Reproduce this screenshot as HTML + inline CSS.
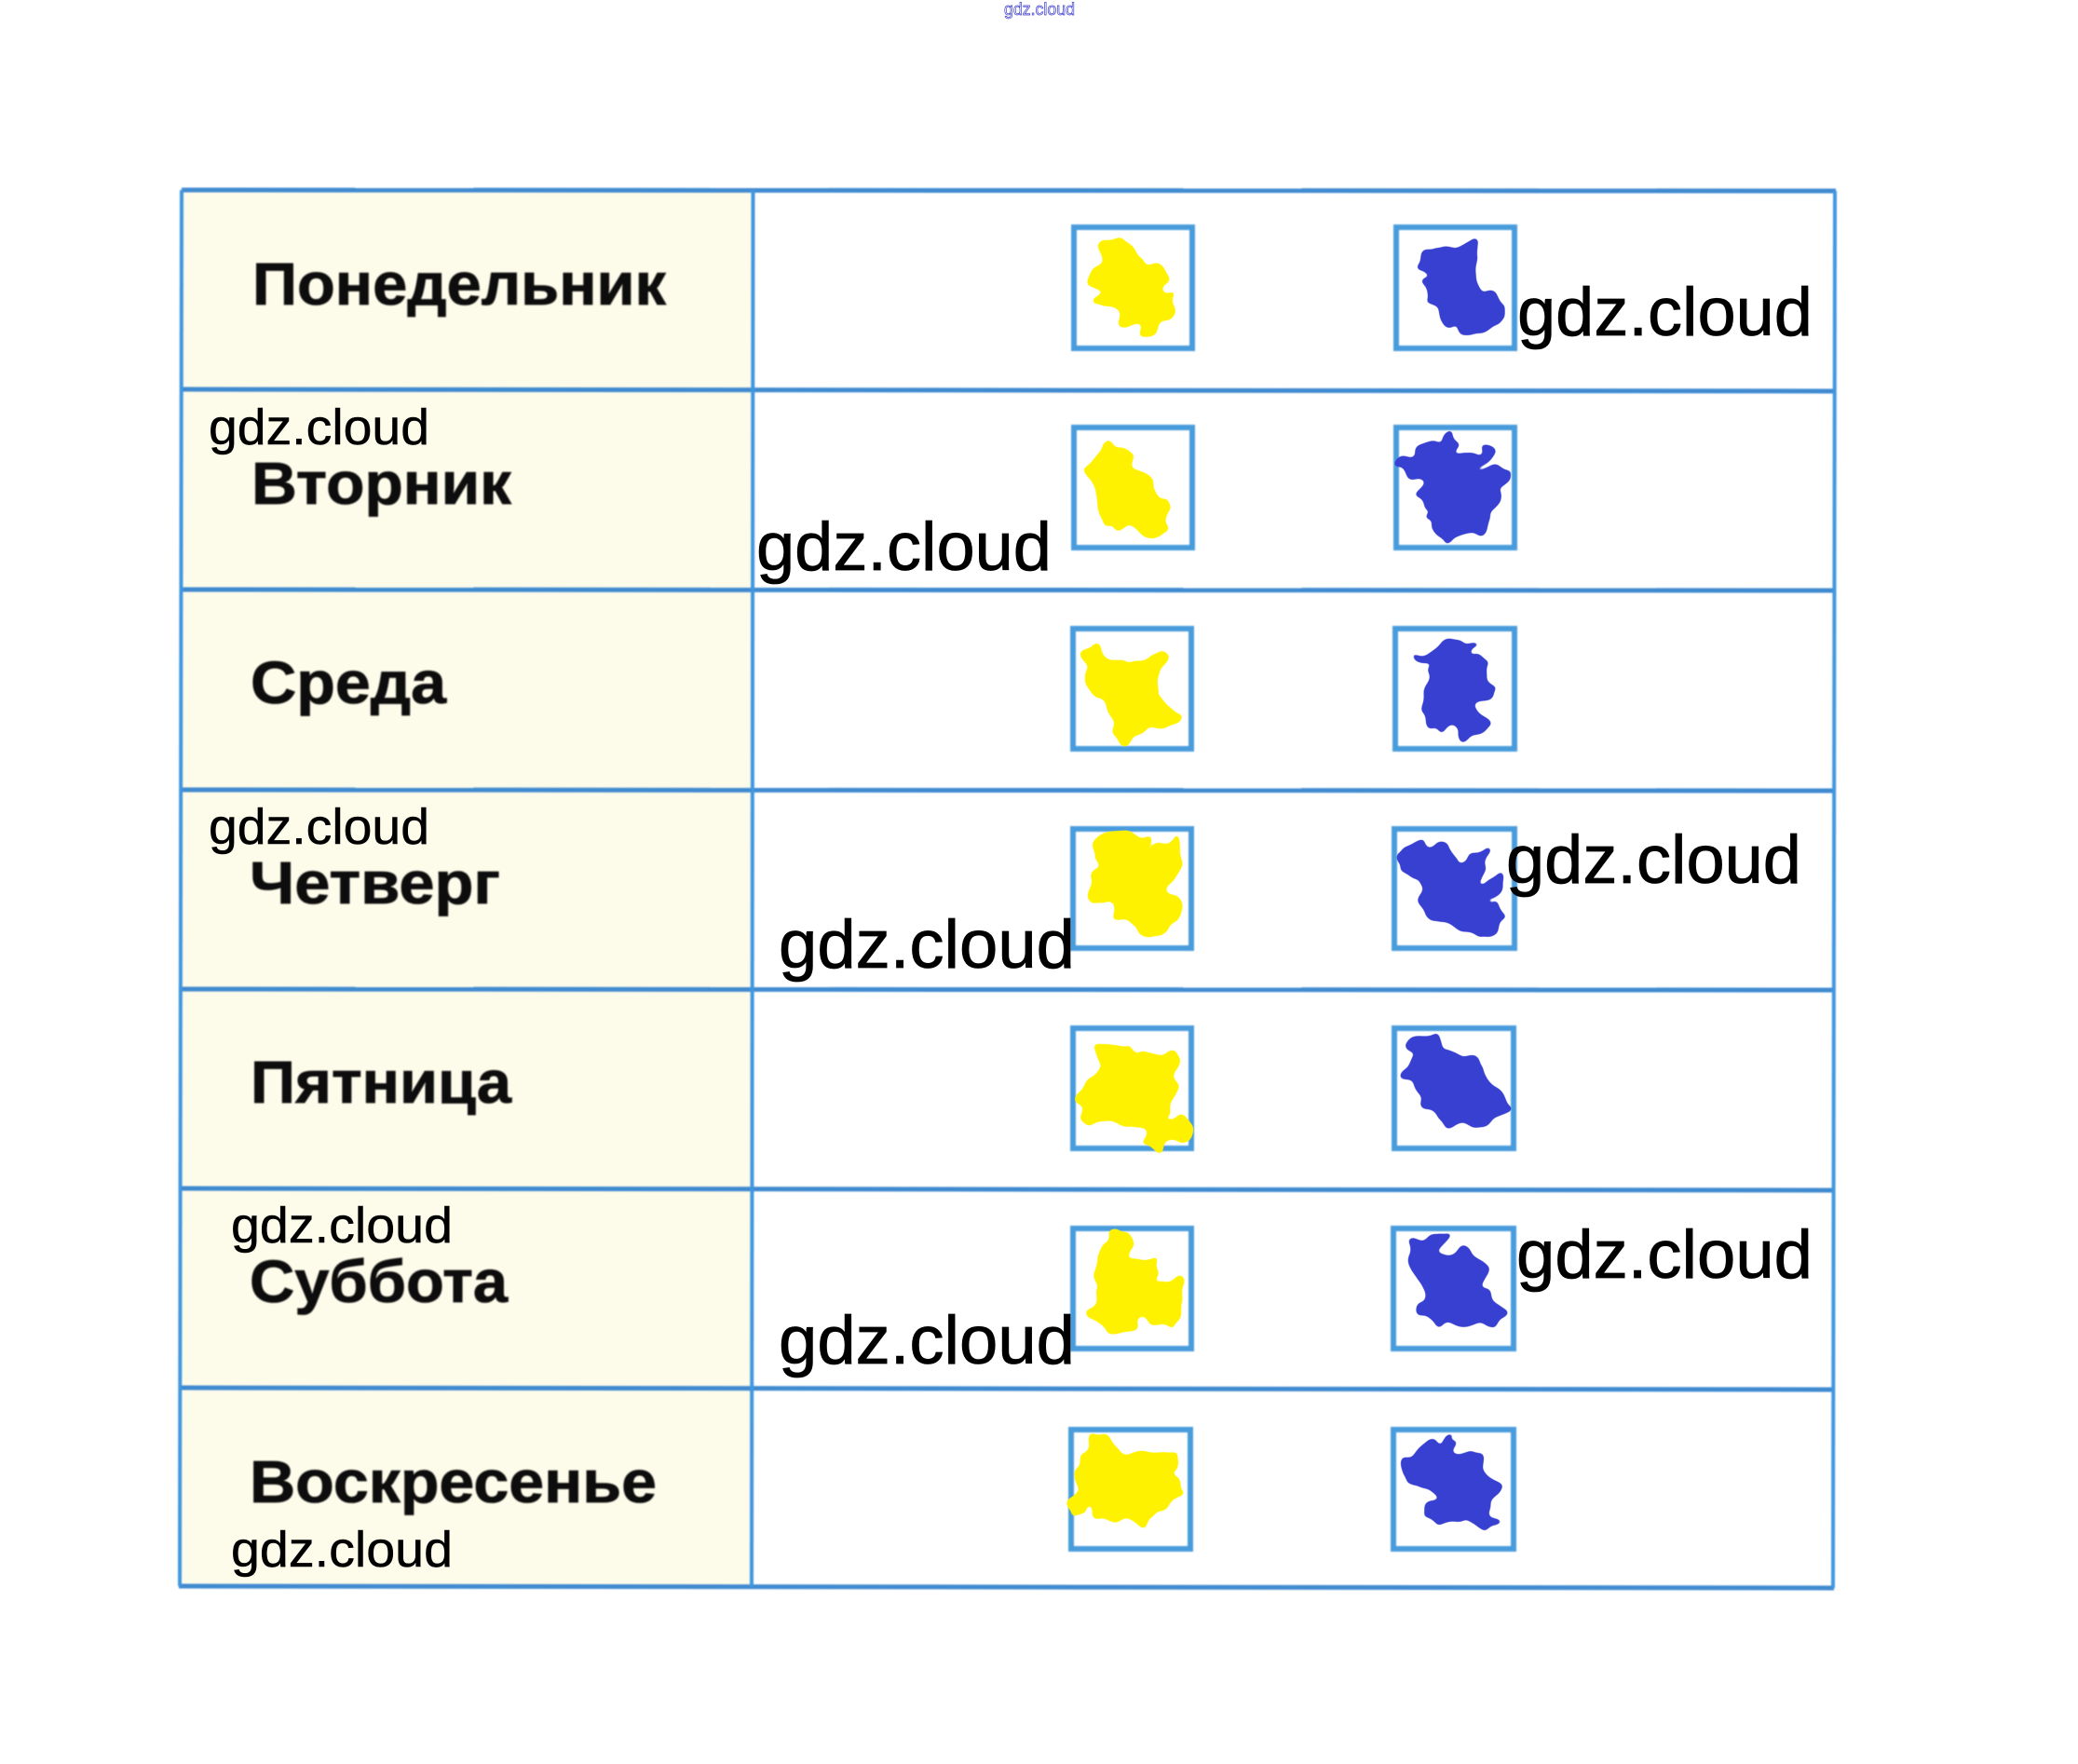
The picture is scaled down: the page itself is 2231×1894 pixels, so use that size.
<!DOCTYPE html>
<html><head><meta charset="utf-8"><style>
html,body{margin:0;padding:0;background:#fff;width:2231px;height:1894px;overflow:hidden}
svg{display:block}
.d{font-family:"Liberation Sans",sans-serif;font-weight:700;fill:#111;stroke:#111;stroke-width:0.8;font-size:64px}
.w{font-family:"Liberation Sans",sans-serif;fill:#000;stroke:#000;stroke-width:0.8;font-size:73px}
.s{font-family:"Liberation Sans",sans-serif;fill:#000;stroke:#000;stroke-width:0.5;font-size:54px}
.h{stroke:#3f8ad0;stroke-width:5;fill:none}
.v{stroke:#3f97e0;stroke-width:4;fill:none}
.b{fill:none;stroke:#4a9cdc;stroke-width:6}
.y{fill:#fff200;stroke:#fff200;stroke-width:6;stroke-linejoin:round;vector-effect:non-scaling-stroke}
.u{fill:#3840d2;stroke:#3840d2;stroke-width:6;stroke-linejoin:round;vector-effect:non-scaling-stroke}
</style></head><body>
<svg width="2231" height="1894" viewBox="0 0 2231 1894" xmlns="http://www.w3.org/2000/svg">
<defs>
<filter id="bl" filterUnits="userSpaceOnUse" x="0" y="0" width="2231" height="1894"><feGaussianBlur stdDeviation="0.9"/></filter>
<filter id="ln" filterUnits="userSpaceOnUse" x="0" y="0" width="2231" height="1894"><feGaussianBlur stdDeviation="0.7"/></filter>
<filter id="lump" filterUnits="userSpaceOnUse" x="0" y="0" width="2231" height="1894" color-interpolation-filters="sRGB">
<feTurbulence type="fractalNoise" baseFrequency="0.055" numOctaves="1" seed="3" result="n"/>
<feDisplacementMap in="SourceGraphic" in2="n" scale="30" xChannelSelector="R" yChannelSelector="G" result="d"/>
<feGaussianBlur in="d" stdDeviation="2.5" result="b"/>
<feComponentTransfer in="b"><feFuncA type="linear" slope="6" intercept="-2.5"/></feComponentTransfer>
</filter>
</defs>
<rect width="2231" height="1894" fill="#fff"/>
<polygon points="195,204 808,205 807,1704 193,1703" fill="#fdfbea"/>

<g filter="url(#ln)">
<g class="h">
<line x1="195" y1="204" x2="1971" y2="205"/>
<line x1="195" y1="418" x2="1971" y2="420"/>
<line x1="195" y1="633" x2="1971" y2="634"/>
<line x1="194" y1="848" x2="1971" y2="849"/>
<line x1="194" y1="1062" x2="1970" y2="1063"/>
<line x1="193" y1="1276" x2="1970" y2="1278"/>
<line x1="193" y1="1490" x2="1969" y2="1492"/>
<line x1="192" y1="1703" x2="1969" y2="1705"/>
</g>
<g class="v">
<line x1="195" y1="204" x2="193" y2="1703"/>
<line x1="808.5" y1="204" x2="807" y2="1704"/>
<line x1="1970" y1="205" x2="1968" y2="1705"/>
</g>
<g class="b">
<rect x="1153" y="244" width="127" height="130"/><rect x="1499" y="244" width="127" height="130"/>
<rect x="1153" y="459" width="127" height="129"/><rect x="1499" y="459" width="127" height="129"/>
<rect x="1152" y="675" width="127" height="129"/><rect x="1498" y="675" width="128" height="129"/>
<rect x="1152" y="890" width="127" height="128"/><rect x="1497" y="890" width="129" height="128"/>
<rect x="1152" y="1104" width="127" height="129"/><rect x="1497" y="1104" width="128" height="129"/>
<rect x="1152" y="1319" width="127" height="129"/><rect x="1496" y="1319" width="129" height="129"/>
<rect x="1150" y="1535" width="128" height="128"/><rect x="1496" y="1535" width="129" height="128"/>
</g>
</g>

<g filter="url(#lump)">
<g transform="translate(1100,180) scale(0.574,0.3333)">
<polygon class="y" points="170,235 185,270 225,285 240,320 260,350 260,400 282,420 265,480 235,530 215,530 205,495 175,485 165,450 140,430 150,390 125,370 145,290 158,245"/>
<polygon class="u" points="838,240 848,250 832,300 852,350 858,385 872,420 892,445 888,495 855,510 830,525 818,505 785,485 775,450 748,435 752,400 765,350 742,320 742,285 768,260 800,272 822,248"/>
<polygon class="y" points="165,895 198,925 203,965 225,1000 235,1025 258,1050 272,1100 258,1130 262,1170 240,1185 212,1162 190,1142 162,1160 150,1120 132,1060 118,1010 118,960 145,905"/>
<polygon class="u" points="800,870 802,900 792,940 860,915 878,930 852,970 840,1000 895,968 900,985 878,1020 878,1060 872,1090 876,1120 845,1158 790,1195 775,1165 756,1135 766,1100 738,1060 742,1010 708,965 708,940 755,905"/>
</g>
<g transform="translate(1100,640) scale(0.3827,0.3333)">
<polygon class="y" points="205,165 235,195 280,235 330,210 385,180 400,192 375,260 365,325 430,385 422,405 380,415 340,410 272,470 255,450 250,400 225,350 190,290 165,225 180,178"/>
<polygon class="u" points="1240,145 1258,160 1240,205 1295,225 1280,265 1320,295 1300,322 1260,345 1305,400 1282,430 1240,445 1212,410 1155,420 1120,370 1135,300 1160,215 1100,215 1092,200 1135,175"/>
<polygon class="y" points="195,798 260,770 332,775 345,822 405,800 440,850 405,950 425,1000 395,1070 350,1095 295,1050 252,1030 248,985 195,962 225,880 195,830"/>
<polygon class="u" points="1070,818 1150,795 1190,818 1215,872 1292,815 1300,830 1255,930 1325,915 1330,930 1298,985 1350,1040 1290,1105 1232,1065 1155,1040 1110,975 1105,900 1065,882 1070,850"/>
</g>
<g transform="translate(1100,850) scale(0.574)">
<polygon class="y" points="130,472 188,472 208,505 282,490 282,560 262,608 225,632 180,625 105,615 100,572 152,512"/>
<polygon class="y" points="296,606 300,648 258,660 224,660 228,634"/>
<polygon class="u" points="768,458 782,490 855,515 870,552 900,585 848,625 792,620 755,588 736,560 716,525 745,490 720,476"/>
<polygon class="y" points="152,827 192,830 197,875 248,885 243,930 290,920 276,1000 215,985 152,1010 130,985 140,930 135,890"/>
<polygon class="u" points="786,825 765,868 830,866 866,888 855,925 890,970 880,995 790,1000 745,978 750,920 730,880 725,848 758,840"/>
<polygon class="y" points="140,1200 172,1235 205,1235 290,1235 270,1280 290,1310 238,1360 152,1360 132,1335 85,1340 110,1300 105,1242 128,1222"/>
<polygon class="u" points="802,1205 788,1248 852,1236 845,1278 885,1297 864,1330 880,1362 860,1380 826,1350 772,1370 746,1352 770,1320 740,1286 710,1276 715,1248 762,1222 782,1232"/>
</g>
</g>

<g filter="url(#bl)">
<text class="d" x="271" y="327" textLength="444" lengthAdjust="spacingAndGlyphs">Понедельник</text>
<text class="d" x="270" y="541" textLength="279" lengthAdjust="spacingAndGlyphs">Вторник</text>
<text class="d" x="269" y="755" textLength="210" lengthAdjust="spacingAndGlyphs">Среда</text>
<text class="d" x="268" y="970" textLength="269" lengthAdjust="spacingAndGlyphs">Четверг</text>
<text class="d" x="269" y="1184" textLength="280" lengthAdjust="spacingAndGlyphs">Пятница</text>
<text class="d" x="268" y="1398" textLength="277" lengthAdjust="spacingAndGlyphs">Суббота</text>
<text class="d" x="268" y="1613" textLength="437" lengthAdjust="spacingAndGlyphs">Воскресенье</text>
</g>

<text class="w" x="1629" y="360" textLength="317" lengthAdjust="spacingAndGlyphs">gdz.cloud</text>
<text class="w" x="812" y="612" textLength="317" lengthAdjust="spacingAndGlyphs">gdz.cloud</text>
<text class="w" x="1617" y="948" textLength="317" lengthAdjust="spacingAndGlyphs">gdz.cloud</text>
<text class="w" x="836" y="1039" textLength="318" lengthAdjust="spacingAndGlyphs">gdz.cloud</text>
<text class="w" x="1628" y="1372" textLength="318" lengthAdjust="spacingAndGlyphs">gdz.cloud</text>
<text class="w" x="836" y="1464" textLength="318" lengthAdjust="spacingAndGlyphs">gdz.cloud</text>
<text class="s" x="224" y="477" textLength="237" lengthAdjust="spacingAndGlyphs">gdz.cloud</text>
<text class="s" x="224" y="906" textLength="237" lengthAdjust="spacingAndGlyphs">gdz.cloud</text>
<text class="s" x="248" y="1334" textLength="238" lengthAdjust="spacingAndGlyphs">gdz.cloud</text>
<text class="s" x="248" y="1682" textLength="238" lengthAdjust="spacingAndGlyphs">gdz.cloud</text>

<text x="1078" y="16" font-family="Liberation Sans, sans-serif" font-size="18" fill="#fff" stroke="#3a3ad0" stroke-width="0.7" textLength="76" lengthAdjust="spacingAndGlyphs">gdz.cloud</text>
</svg>
</body></html>
